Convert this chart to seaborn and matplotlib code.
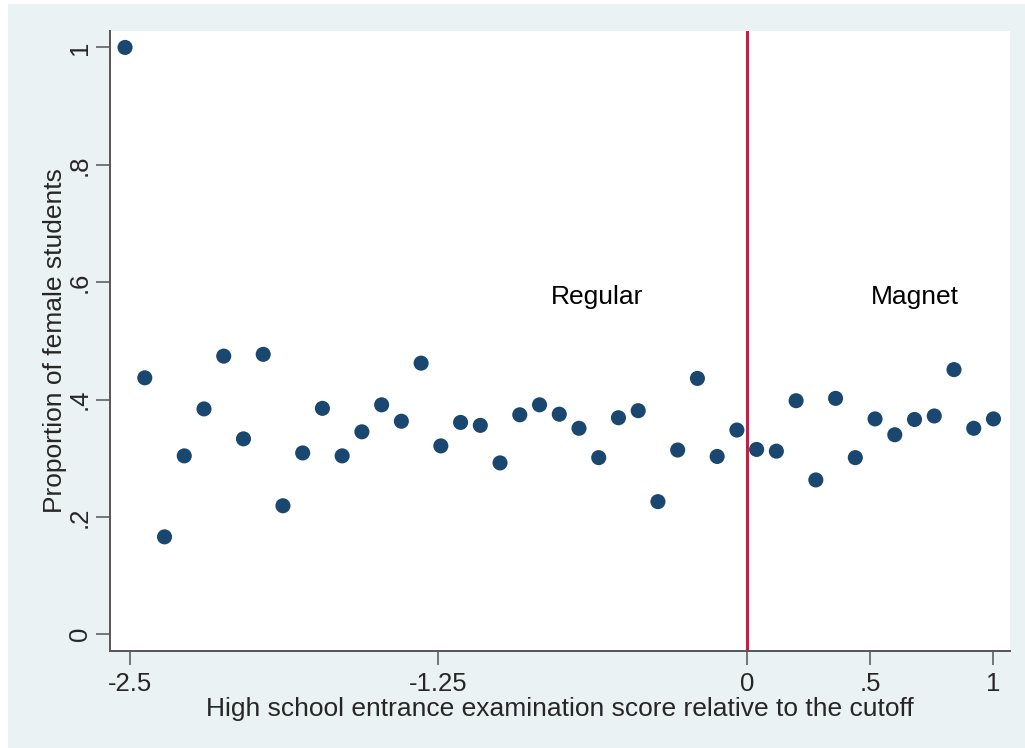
import matplotlib
matplotlib.use("Agg")
import matplotlib.pyplot as plt
import matplotlib.patches as mpatches
import seaborn as sns
import pandas as pd

# Binned score (bin midpoints, relative to cutoff) and share of female students
score_bins = [
    -2.52, -2.44, -2.36, -2.28, -2.20, -2.12, -2.04, -1.96, -1.88, -1.80,
    -1.72, -1.64, -1.56, -1.48, -1.40, -1.32, -1.24, -1.16, -1.08, -1.00,
    -0.92, -0.84, -0.76, -0.68, -0.60, -0.52, -0.44, -0.36, -0.28, -0.20,
    -0.12, -0.04,
    0.04, 0.12, 0.20, 0.28, 0.36, 0.44, 0.52, 0.60, 0.68, 0.76, 0.84, 0.92, 1.00,
]
female_share = [
    1.000, 0.437, 0.166, 0.304, 0.384, 0.474, 0.333, 0.477, 0.219, 0.309,
    0.385, 0.304, 0.345, 0.391, 0.363, 0.462, 0.321, 0.361, 0.356, 0.292,
    0.374, 0.391, 0.375, 0.351, 0.301, 0.369, 0.381, 0.226, 0.314, 0.436,
    0.303, 0.348,
    0.315, 0.312, 0.398, 0.263, 0.402, 0.301, 0.367, 0.340, 0.366, 0.372,
    0.451, 0.351, 0.367,
]

x_ticks = [-2.5, -1.25, 0, 0.5, 1]
x_tick_labels = ["-2.5", "-1.25", "0", ".5", "1"]
y_ticks = [0, 0.2, 0.4, 0.6, 0.8, 1.0]
y_tick_labels = ["0", ".2", ".4", ".6", ".8", "1"]
cutoff = 0.0
region_labels = [("Regular", -0.605, 0.574), ("Magnet", 0.68, 0.574)]

df = pd.DataFrame({"score": score_bins, "share": female_share})

sns.set_style("white")
plt.rcParams["font.family"] = ["Liberation Sans", "DejaVu Sans"]

BG = "#EAF2F3"
NAVY = "#1A476F"
AXIS = "#555555"

fig = plt.figure(figsize=(10.25, 7.48), dpi=100, facecolor="white")
# Light graph region, inset slightly from the top and left edges
fig.patches.append(mpatches.Rectangle((8 / 1025, 0), 1 - 8 / 1025, 1 - 4 / 748,
                                      transform=fig.transFigure, facecolor=BG,
                                      edgecolor="none", zorder=-10))
ax = fig.add_axes([110 / 1025, 1 - 651 / 748, 900 / 1025, 620 / 748])
ax.set_facecolor("white")

sns.scatterplot(data=df, x="score", y="share", ax=ax, color=NAVY, s=118,
                edgecolor="none", linewidth=0, zorder=3)
ax.axvline(cutoff, color="#CC1A48", linewidth=2.2, zorder=2)

for text, tx, ty in region_labels:
    ax.text(tx, ty, text, ha="center", va="center", fontsize=19, color="black")

ax.set_xlim(-2.581, 1.067)
ax.set_ylim(-0.0285, 1.028)
ax.set_xticks(x_ticks)
ax.set_xticklabels(x_tick_labels)
ax.set_yticks(y_ticks)
ax.set_yticklabels(y_tick_labels, rotation=90, va="center")

ax.set_xlabel("High school entrance examination score relative to the cutoff",
              fontsize=19, labelpad=1)
ax.set_ylabel("Proportion of female students", fontsize=19, labelpad=1)

for side in ("top", "right"):
    ax.spines[side].set_visible(False)
for side in ("left", "bottom"):
    ax.spines[side].set_color(AXIS)
    ax.spines[side].set_linewidth(1.4)
ax.tick_params(axis="both", direction="out", length=10, width=1.1, color=AXIS,
               labelsize=18.5, bottom=True, left=True)
ax.tick_params(axis="x", pad=5)
ax.tick_params(axis="y", pad=3)

fig.savefig("out.png", dpi=100, facecolor=fig.get_facecolor())
